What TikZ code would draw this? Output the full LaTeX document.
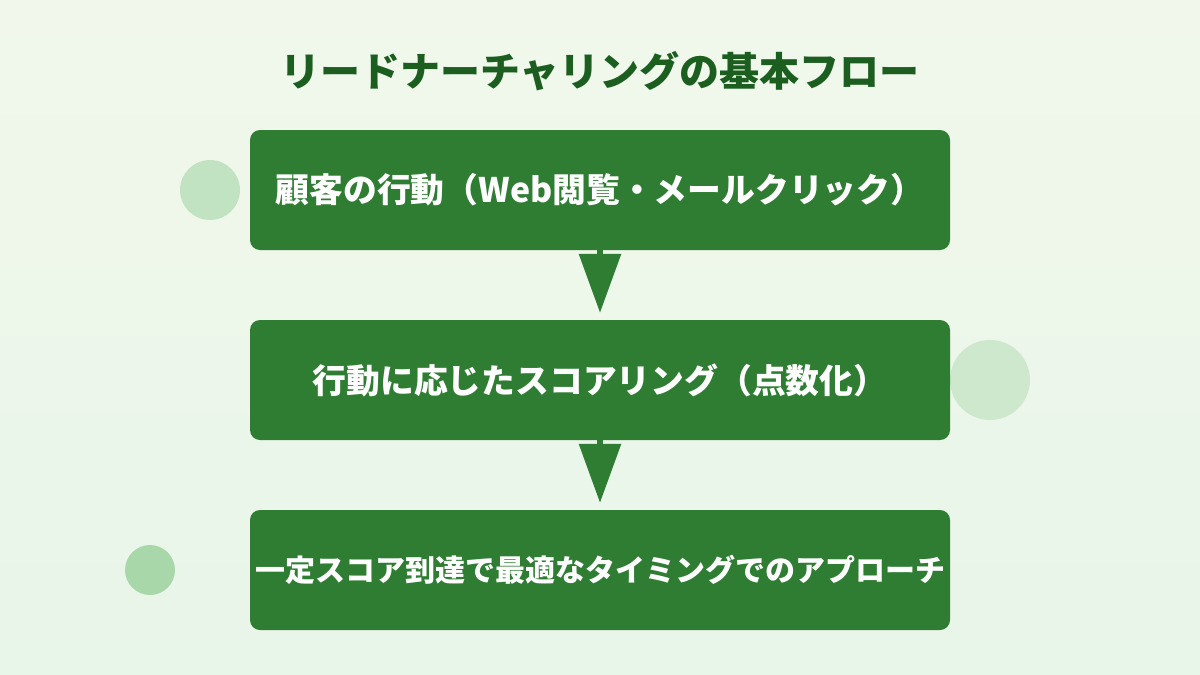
\documentclass[tikz,border=0pt]{standalone}
\usepackage{fontspec}
\setmainfont{Noto Sans CJK JP}
\usetikzlibrary{arrows.meta}
\definecolor{boxgreen}{HTML}{2E7D32}
\definecolor{titlegreen}{HTML}{1B5E20}
\definecolor{bgtop}{HTML}{F1F8EB}
\definecolor{bgbottom}{HTML}{E8F5E9}
\definecolor{dotA}{HTML}{C2E3C1}
\definecolor{dotB}{HTML}{CDE8CD}
\definecolor{dotC}{HTML}{A8D8A9}
\begin{document}
\begin{tikzpicture}[x=1pt,y=-1pt,
  stepbox/.style={fill=boxgreen, rounded corners=10pt, minimum width=700pt,
    minimum height=120pt, inner sep=0pt, text=white,
    font=\bfseries\fontsize{33.8}{40}\selectfont},
  flow/.style={draw=boxgreen, line width=6pt,
    -{Triangle[width=41pt,length=59pt]}, shorten >=7pt},
  titletext/.style={text=titlegreen, font=\bfseries\fontsize{40}{48}\selectfont}]
\useasboundingbox (0,0) rectangle (1200,675);
\fill[top color=bgtop, bottom color=bgbottom] (0,0) rectangle (1200,675);
% decorative circles
\fill[dotA] (210,190) circle[radius=30];
\fill[dotB] (990,380) circle[radius=40];
\fill[dotC] (150,570) circle[radius=25];
% title
\node[titletext] (title) at (600,71) {リードナーチャリングの基本フロー};
% boxes
\node[stepbox] (b1) at (600,190) {顧客の行動（Web閲覧・メールクリック）};
\node[stepbox] (b2) at (600,380) {行動に応じたスコアリング（点数化）};
\node[stepbox, font=\bfseries\fontsize{30}{36}\selectfont] (b3) at (600,570) {一定スコア到達で最適なタイミングでのアプローチ};
% arrows
\draw[flow] (b1.south) -- (b2.north);
\draw[flow] (b2.south) -- (b3.north);
\end{tikzpicture}
\end{document}
